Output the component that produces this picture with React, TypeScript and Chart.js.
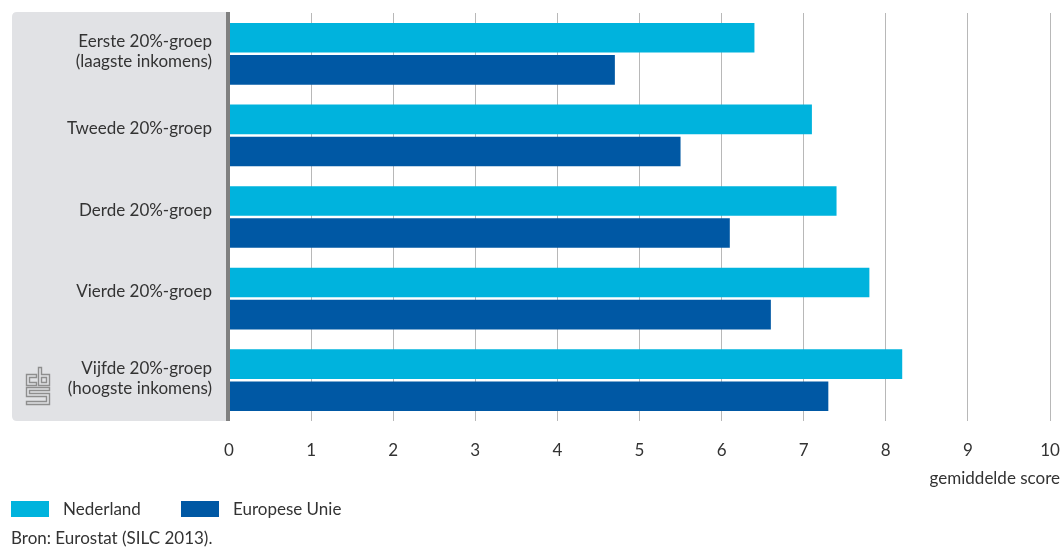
import React, { useEffect, useRef } from "react";
import { Chart, registerables } from "chart.js";

Chart.register(...registerables);

const categories: string[][] = [
  ["Eerste 20%-groep", "(laagste inkomens)"],
  ["Tweede 20%-groep"],
  ["Derde 20%-groep"],
  ["Vierde 20%-groep"],
  ["Vijfde 20%-groep", "(hoogste inkomens)"],
];
const nederland = [6.4, 7.1, 7.4, 7.8, 8.2];
const europeseUnie = [4.7, 5.5, 6.1, 6.6, 7.3];
const seriesNames = ["Nederland", "Europese Unie"];
const seriesColors = ["#00b3dd", "#0058a4"];
const axisTitle = "gemiddelde score";
const sourceText = "Bron: Eurostat (SILC 2013).";

const FONT = "Lato, 'Open Sans', sans-serif";
const FS = 17;
const TEXT = "#333333";

const zeroPad = (s: any) => {
  s.paddingTop = 0;
  s.paddingBottom = 0;
  s.paddingLeft = 0;
  s.paddingRight = 0;
};

const decorPlugin = {
  id: "decor",
  beforeDraw(chart: any) {
    const { ctx, chartArea } = chart;
    const x0 = 12, y0 = 12, x1 = chartArea.left - 1, y1 = chartArea.bottom;
    const r = 5;
    ctx.save();
    ctx.fillStyle = "#e1e2e5";
    ctx.beginPath();
    ctx.moveTo(x0 + r, y0);
    ctx.lineTo(x1, y0);
    ctx.lineTo(x1, y1);
    ctx.lineTo(x0 + r, y1);
    ctx.quadraticCurveTo(x0, y1, x0, y1 - r);
    ctx.lineTo(x0, y0 + r);
    ctx.quadraticCurveTo(x0, y0, x0 + r, y0);
    ctx.closePath();
    ctx.fill();

    // CBS logo (outline style)
    const lx = 26.5, ly = 367.5;
    ctx.strokeStyle = "#8e8e8e";
    ctx.lineWidth = 1.4;
    const poly = (pts: number[][]) => {
      ctx.beginPath();
      pts.forEach((p, i) => (i ? ctx.lineTo(lx + p[0], ly + p[1]) : ctx.moveTo(lx + p[0], ly + p[1])));
      ctx.closePath();
      ctx.stroke();
    };
    poly([[0, 7], [10, 7], [10, 10], [3, 10], [3, 15], [10, 15], [10, 18], [0, 18]]);
    poly([[12, 0], [15, 0], [15, 7], [23, 7], [23, 18], [12, 18]]);
    poly([[15, 10], [20, 10], [20, 15], [15, 15]]);
    poly([
      [0, 20], [23, 20], [23, 23], [3, 23], [3, 26], [23, 26], [23, 37], [0, 37], [0, 34],
      [20, 34], [20, 29], [0, 29],
    ]);
    ctx.restore();
  },
  afterDatasetsDraw(chart: any) {
    const { ctx, chartArea } = chart;
    ctx.save();
    ctx.fillStyle = "#808080";
    ctx.fillRect(chartArea.left - 3, chartArea.top - 1, 4, chartArea.bottom - chartArea.top + 1);
    ctx.restore();
  },
  afterDraw(chart: any) {
    const { ctx, width, chartArea } = chart;
    const yScale = chart.scales.y;
    ctx.save();
    ctx.fillStyle = TEXT;
    ctx.font = `${FS}px ${FONT}`;
    // category labels
    ctx.textAlign = "right";
    ctx.textBaseline = "alphabetic";
    (chart.data.labels as string[][]).forEach((lab, i) => {
      const c = yScale.getPixelForValue(i);
      if (lab.length === 1) {
        ctx.fillText(lab[0], chartArea.left - 17, c - 1.5);
      } else {
        ctx.fillText(lab[0], chartArea.left - 17, c - 6.5);
        ctx.fillText(lab[1], chartArea.left - 17, c + 13.5);
      }
    });
    ctx.textBaseline = "middle";
    ctx.fillText(axisTitle, width - 2, 479);
    ctx.textAlign = "left";
    const items = chart.data.datasets;
    const swX = [11, 181];
    items.forEach((ds: any, i: number) => {
      ctx.fillStyle = ds.backgroundColor;
      ctx.fillRect(swX[i], 501, 38, 16);
      ctx.fillStyle = TEXT;
      ctx.fillText(ds.label, swX[i] + 52, 510);
    });
    ctx.fillText(sourceText, 11, 539);
    ctx.restore();
  },
};

export default function App() {
  const ref = useRef<HTMLCanvasElement>(null);
  useEffect(() => {
    if (!ref.current) return;
    const chart = new Chart(ref.current, {
      type: "bar",
      data: {
        labels: categories,
        datasets: [
          { label: seriesNames[0], data: nederland, backgroundColor: seriesColors[0], categoryPercentage: 0.787, barPercentage: 0.922 },
          { label: seriesNames[1], data: europeseUnie, backgroundColor: seriesColors[1], categoryPercentage: 0.787, barPercentage: 0.922 },
        ],
      },
      options: {
        indexAxis: "y",
        animation: false,
        responsive: false,
        layout: { padding: { left: 0, right: 12, top: 13, bottom: 0 } },
        plugins: { legend: { display: false }, tooltip: { enabled: false } },
        scales: {
          x: {
            min: 0,
            max: 10,
            border: { display: false },
            grid: { color: "#b8b8b8", lineWidth: 1, drawTicks: false },
            ticks: { stepSize: 1, padding: 19, color: TEXT, font: { family: FONT, size: FS } },
            afterFit: (s: any) => { s.height = 547 - 13 - 408; zeroPad(s); },
          },
          y: {
            border: { display: false },
            grid: { display: false, drawTicks: false },
            ticks: { display: false },
            afterFit: (s: any) => { s.width = 229; zeroPad(s); },
          },
        },
      },
      plugins: [decorPlugin],
    } as any);
    return () => chart.destroy();
  }, []);
  return (
    <div style={{ position: "fixed", left: 0, top: 0, width: 1062, height: 547, background: "#fff" }}>
      <canvas ref={ref} width={1062} height={547} />
    </div>
  );
}
